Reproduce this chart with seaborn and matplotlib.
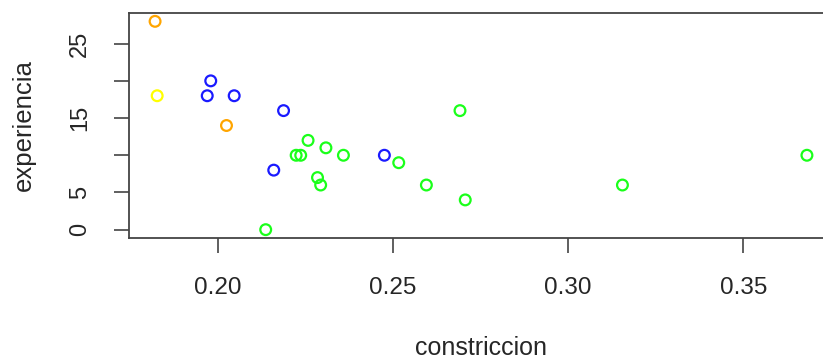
import matplotlib
matplotlib.use("Agg")
import matplotlib.pyplot as plt
import seaborn as sns
import pandas as pd

# Data
constriccion = [0.1820, 0.2024,                      # orange
                0.1826,                              # yellow
                0.1979, 0.1969, 0.2046, 0.2187, 0.2159, 0.2475,  # blue
                0.2136, 0.2257, 0.2223, 0.2236, 0.2308, 0.2358, 0.2284,
                0.2293, 0.2516, 0.2691, 0.2595, 0.2706, 0.3155, 0.3682]  # green
experiencia = [28, 14,
               18,
               20, 18, 18, 16, 8, 10,
               0, 12, 10, 10, 11, 10, 7,
               6, 9, 16, 6, 4, 6, 10]
grupo = (["orange"] * 2 + ["yellow"] * 1 + ["blue"] * 6 + ["green"] * 14)
palette = {"orange": "#FFA500", "yellow": "#FFFF00", "blue": "#1A1AFF", "green": "#1AFF1A"}

x_ticks = [0.20, 0.25, 0.30, 0.35]
x_ticklabels = ["0.20", "0.25", "0.30", "0.35"]
y_ticks = [0, 5, 10, 15, 20, 25]
y_ticklabels = ["0", "5", "", "15", "", "25"]

df = pd.DataFrame({"constriccion": constriccion, "experiencia": experiencia, "grupo": grupo})

sns.set_style("white")
plt.rcParams["font.family"] = ["Liberation Sans", "DejaVu Sans"]

fig = plt.figure(figsize=(8.23, 3.6), dpi=100)
ax = fig.add_axes([129 / 823, 122 / 360, 704 / 823, 225 / 360])

sns.scatterplot(data=df, x="constriccion", y="experiencia", hue="grupo",
                palette=palette, s=60, linewidth=0, legend=False, ax=ax)
pts = ax.collections[0]
fc = pts.get_facecolors()
pts.set_edgecolors(fc)
pts.set_facecolors("none")
pts.set_linewidths(1.6)

xmin, xmax = min(constriccion), max(constriccion)
ymin, ymax = min(experiencia), max(experiencia)
dx = (xmax - xmin) * 0.04
dy = (ymax - ymin) * 0.04
ax.set_xlim(xmin - dx, xmax + dx)
ax.set_ylim(ymin - dy, ymax + dy)

ax.set_xticks(x_ticks)
ax.set_xticklabels(x_ticklabels)
ax.set_yticks(y_ticks)
ax.set_yticklabels(y_ticklabels, rotation=90, va="center")

text_color = "#262626"
ax.tick_params(axis="x", length=11, width=1.2, color="#444444", pad=17,
               labelsize=17.5, labelcolor=text_color, bottom=True)
ax.tick_params(axis="y", length=10.5, width=1.2, color="#444444", pad=17,
               labelsize=17, labelcolor=text_color, left=True)

for sp in ax.spines.values():
    sp.set_color("#444444")
    sp.set_linewidth(1.3)
    sp.set_visible(True)

ax.set_xlabel("constriccion", fontsize=18, color=text_color)
ax.set_ylabel("experiencia", fontsize=18.5, color=text_color)
ax.xaxis.set_label_coords(0.5, -0.49)
ax.yaxis.set_label_coords(-0.149, 0.502)
ax.xaxis.label.set_va("center")
ax.yaxis.label.set_va("center")

fig.savefig("out.png", dpi=100)
